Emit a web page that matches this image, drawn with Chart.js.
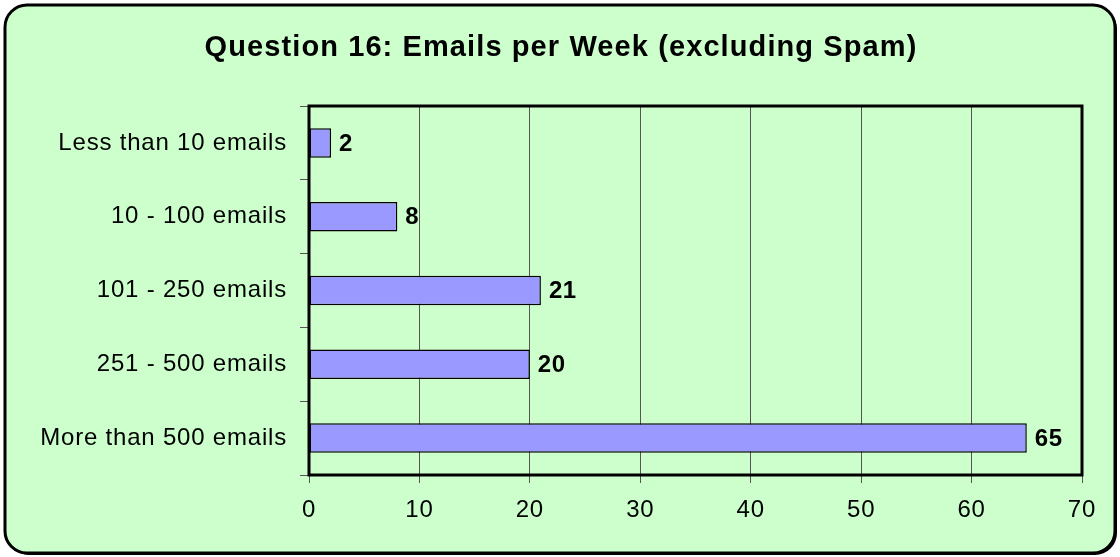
<!DOCTYPE html>
<html>
<head>
<meta charset="utf-8">
<script src="https://cdn.jsdelivr.net/npm/chart.js@4"></script>
<style>
  html, body { margin: 0; padding: 0; background: #fff; }
  #wrap { width: 1120px; height: 557px; position: relative; }
</style>
</head>
<body>
<div id="wrap"><canvas id="emailChart" width="1120" height="557"></canvas></div>
<script>
const chartTitle = 'Question 16: Emails per Week (excluding Spam)';
const categories = ['Less than 10 emails', '10 - 100 emails', '101 - 250 emails', '251 - 500 emails', 'More than 500 emails'];
const responses = [2, 8, 21, 20, 65];
const xTicks = [0, 10, 20, 30, 40, 50, 60, 70];

const FONT = '"Liberation Sans", Arial, sans-serif';

// green rounded panel behind everything
const panelPlugin = {
    id: 'panel',
    beforeDraw(chart) {
        const ctx = chart.ctx;
        ctx.save();
        ctx.fillStyle = '#fff';
        ctx.fillRect(0, 0, chart.width, chart.height);
        const x = 5, y = 5, w = 1110, h = 548, r = 22;
        // little drop shadow on the right/bottom
        ctx.beginPath();
        ctx.roundRect(x + 2, y + 2, w, h, r);
        ctx.fillStyle = '#000';
        ctx.fill();
        ctx.beginPath();
        ctx.roundRect(x, y, w, h, r);
        ctx.fillStyle = '#ccffcc';
        ctx.fill();
        ctx.lineWidth = 3;
        ctx.strokeStyle = '#000';
        ctx.stroke();
        // title
        ctx.fillStyle = '#000';
        ctx.font = 'bold 29px ' + FONT;
        ctx.letterSpacing = '1.1px';
        ctx.textAlign = 'center';
        ctx.textBaseline = 'alphabetic';
        ctx.fillText(chartTitle, 561, 56);
        ctx.restore();
        // a bit of tracking for the axis labels as well
        ctx.letterSpacing = '0.8px';
    },
    afterDatasetsDraw(chart) {
        const ctx = chart.ctx;
        const a = chart.chartArea;
        ctx.save();
        // plot frame
        ctx.lineWidth = 3;
        ctx.strokeStyle = '#000';
        ctx.strokeRect(a.left, a.top, a.right - a.left, a.bottom - a.top);
        // value labels
        ctx.font = 'bold 24px ' + FONT;
        ctx.letterSpacing = '0.5px';
        ctx.fillStyle = '#000';
        ctx.textAlign = 'left';
        ctx.textBaseline = 'middle';
        chart.getDatasetMeta(0).data.forEach((bar, i) => {
            ctx.fillText(String(responses[i]), bar.x + 8, bar.y + 1);
        });
        ctx.restore();
    }
};

new Chart(document.getElementById('emailChart'), {
    type: 'bar',
    data: {
        labels: categories,
        datasets: [{
            data: responses,
            backgroundColor: '#9999ff',
            borderColor: '#000',
            borderWidth: 1.5,
            borderSkipped: false,
            categoryPercentage: 1,
            barPercentage: 0.4
        }]
    },
    options: {
        indexAxis: 'y',
        responsive: false,
        animation: false,
        layout: { padding: { top: 106, right: 38, left: 0, bottom: 0 } },
        plugins: {
            legend: { display: false },
            title: { display: false },
            tooltip: { enabled: false }
        },
        scales: {
            x: {
                min: 0,
                max: 70,
                afterBuildTicks(axis) { axis.ticks = xTicks.map(v => ({ value: v })); },
                afterFit(axis) { axis.height = 82; },
                grid: { color: '#555', lineWidth: 1, tickLength: 8, drawOnChartArea: true },
                border: { display: false },
                ticks: { color: '#000', font: { family: FONT, size: 24 }, padding: 13, maxRotation: 0 }
            },
            y: {
                offset: true,
                afterFit(axis) { axis.width = 309; },
                grid: { offset: true, color: '#555', lineWidth: 1, tickLength: 9, drawOnChartArea: false },
                border: { display: false },
                ticks: { color: '#000', font: { family: FONT, size: 24 }, padding: 13 }
            }
        }
    },
    plugins: [panelPlugin]
});
</script>
</body>
</html>
